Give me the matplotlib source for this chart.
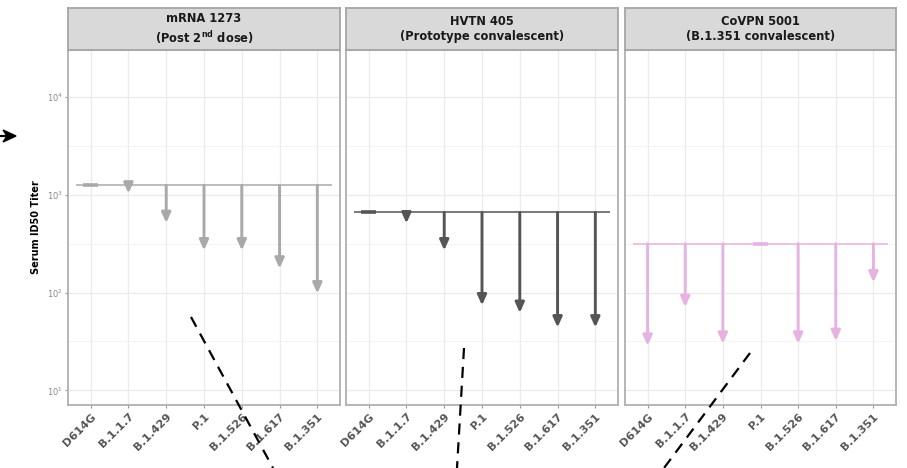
import numpy as np
import matplotlib
matplotlib.use("Agg")
import matplotlib.pyplot as plt
from matplotlib.lines import Line2D
from matplotlib.ticker import FixedLocator, NullFormatter

# variants on the x axis
variants = ['D614G', 'B.1.1.7', 'B.1.429', 'P.1', 'B.1.526', 'B.1.617', 'B.1.351']

# panel titles
titles = ['mRNA 1273\n(Post 2$^{\\mathbf{nd}}$ dose)',
          'HVTN 405\n(Prototype convalescent)',
          'CoVPN 5001\n(B.1.351 convalescent)']

# reference titer (homologous strain) for each panel
ref_titers = [1250, 660, 316]

# titers against each variant (arrow tips)
mrna_titers = [1250, 1030, 515, 270, 270, 176, 98]
hvtn_titers = [660, 510, 270, 74, 62, 44, 44]
covpn_titers = [28.6, 71, 30, 316, 30, 32, 127]

all_titers = [mrna_titers, hvtn_titers, covpn_titers]
colors = ['#a9a9a9', '#555555', '#e6b2e1']

W, H = 907, 468
fig = plt.figure(figsize=(W / 100, H / 100), dpi=100)

def px_box(x0, y0, x1, y1):
    # pixel box (top-left origin) -> figure fraction rect
    return [x0 / W, 1 - y1 / H, (x1 - x0) / W, (y1 - y0) / H]

panel_x = [(68, 340), (346, 618), (625, 896)]
top, bottom, strip_top = 50, 405, 8

x = np.arange(1, len(variants) + 1)

for k in range(3):
    x0, x1 = panel_x[k]
    ax = fig.add_axes(px_box(x0, top, x1, bottom))
    c = colors[k]
    ref = ref_titers[k]

    ax.set_yscale('log')
    ax.set_ylim(10 ** 0.85, 10 ** 4.48)
    ax.set_xlim(0.4, 7.6)

    # grid
    ax.set_yticks([10, 100, 1000, 10000])
    ax.yaxis.set_minor_locator(FixedLocator([10 ** (p + 0.5) for p in range(0, 5)]))
    ax.yaxis.set_minor_formatter(NullFormatter())
    ax.set_xticks(x)
    ax.grid(True, which='major', color='#ebebeb', lw=0.9)
    ax.grid(True, which='minor', axis='y', color='#f3f3f3', lw=0.6)
    ax.set_axisbelow(True)

    # reference line
    ax.plot([0.6, 7.4], [ref, ref], color=c, lw=1.1, solid_capstyle='butt', zorder=2)

    for xi, v in zip(x, all_titers[k]):
        if v >= ref:
            ax.plot([xi - 0.2, xi + 0.2], [v, v], color=c, lw=2.6,
                    solid_capstyle='butt', zorder=3)
        else:
            ax.annotate('', xy=(xi, v), xytext=(xi, ref),
                        arrowprops=dict(arrowstyle='-|>,head_length=0.6,head_width=0.27',
                                        color=c, lw=2.1, shrinkA=0, shrinkB=0,
                                        mutation_scale=10), zorder=3)

    ax.set_xticklabels(variants, rotation=45, ha='right', va='top',
                       rotation_mode='anchor', fontsize=8, color='#555555',
                       fontweight='bold')
    ax.tick_params(axis='x', length=2.5, color='#999999', pad=2)
    ax.tick_params(axis='y', which='major', length=2.5, color='#999999', pad=1)
    ax.tick_params(axis='y', which='minor', length=0)
    if k == 0:
        ax.set_yticklabels(['$10^{1}$', '$10^{2}$', '$10^{3}$', '$10^{4}$'],
                           fontsize=6, color='#888888')
        ax.set_ylabel('Serum ID50 Titer', fontsize=7, fontweight='bold', labelpad=4)
    else:
        ax.set_yticklabels([])
        ax.tick_params(axis='y', which='major', length=0)

    for s in ax.spines.values():
        s.set_color('#b0b0b0')
        s.set_linewidth(1.3)

    # facet strip
    sax = fig.add_axes(px_box(x0, strip_top, x1, top))
    sax.set_facecolor('#d9d9d9')
    sax.set_xticks([])
    sax.set_yticks([])
    for s in sax.spines.values():
        s.set_color('#a6a6a6')
        s.set_linewidth(1.3)
    sax.text(0.5, 0.5, titles[k], ha='center', va='center', fontsize=8.3,
             fontweight='bold', color='#1a1a1a', linespacing=1.25,
             transform=sax.transAxes)

# dashed call-out lines over the figure
callouts = [((191, 317), (273, 468)),
            ((464, 348), (457, 468)),
            ((750, 353), (664, 468))]
for (a, b) in callouts:
    fig.add_artist(Line2D([a[0] / W, b[0] / W], [1 - a[1] / H, 1 - b[1] / H],
                          color='black', lw=1.6, ls=(0, (5, 3.5))))

# arrow at the left edge
fig.add_artist(Line2D([0, 6 / W], [1 - 136 / H, 1 - 136 / H], color='black',
                      lw=1.6, ls=(0, (3, 2))))
fig.add_artist(plt.Polygon([[3 / W, 1 - 130 / H], [16 / W, 1 - 136 / H],
                            [3 / W, 1 - 142 / H], [7 / W, 1 - 136 / H]],
                           closed=True, color='black', transform=fig.transFigure))

fig.savefig('out.png', dpi=100)
